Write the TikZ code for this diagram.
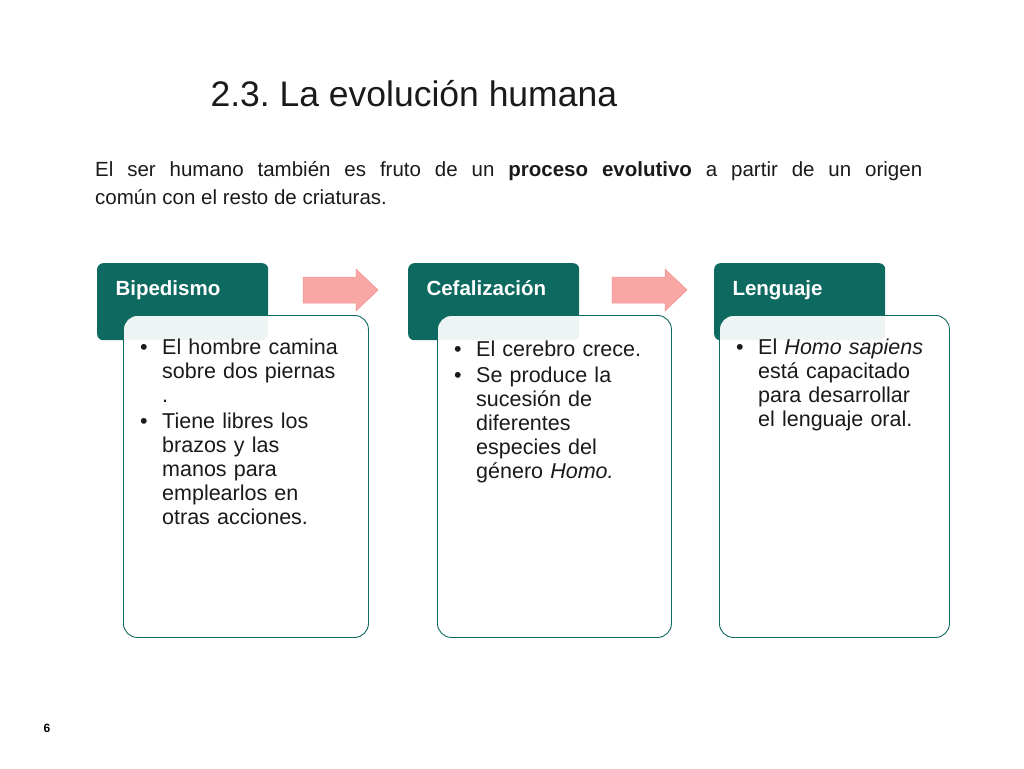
\documentclass[tikz,border=0pt]{standalone}
\usepackage{fontspec}
\setmainfont{Liberation Sans}
\definecolor{teal1}{HTML}{0E6A60}
\definecolor{pinkar}{HTML}{F9A7A5}
\definecolor{pinkbd}{HTML}{F08E8C}
\definecolor{txt}{HTML}{1A1A1A}
\newcommand{\bitem}[1]{\noindent\makebox[22pt][l]{\textbullet}\parbox[t]{200pt}{#1\strut}\par}
\frenchspacing
\begin{document}
\begin{tikzpicture}[x=1pt,y=-1pt,
  head/.style={fill=teal1,rounded corners=6pt,minimum width=171pt,minimum height=77pt,anchor=north west},
  htext/.style={anchor=base west,text=white,font=\fontsize{20.5}{22}\selectfont\bfseries},
  card/.style={draw=teal1,fill=white,fill opacity=0.93,draw opacity=1,rounded corners=14pt,anchor=north west,minimum height=322pt,line width=0.9pt},
  body/.style={anchor=north west,align=left,text width=225pt,text=txt,font=\fontsize{21.5}{24}\selectfont,inner sep=0pt},
  arr/.style={fill=pinkar,draw=pinkbd,line width=0.5pt}]
\useasboundingbox (0,0) rectangle (1024,768);
\node[anchor=base west,font=\fontsize{35.5}{40}\selectfont,text=txt] (title) at (207,106) {2.3. La evolución humana};
\node[anchor=north west,text width=827pt,align=justify,inner sep=0pt,text=txt,font=\fontsize{20.5}{28}\selectfont] (intro) at (95,161) {El ser humano también es fruto de un \textbf{proceso evolutivo} a partir de un origen\linebreak común con el resto de criaturas.};
\node[head] (h1) at (97,263) {};
\node[head] (h2) at (408,263) {};
\node[head] (h3) at (714,263) {};
\node[htext] (t1) at (112,295) {Bipedismo};
\node[htext] (t2) at (423,295) {Cefalización};
\node[htext] (t3) at (729,295) {Lenguaje};
\node[card,minimum width=245pt] (c1) at (123,315) {};
\node[card,minimum width=234pt] (c2) at (437,315) {};
\node[card,minimum width=230pt] (c3) at (719,315) {};
\draw[arr] (303,277) -- (356,277) -- (356,269) -- (378,290) -- (356,311) -- (356,303) -- (303,303) -- cycle;
\draw[arr] (612,277) -- (665,277) -- (665,269) -- (687,290) -- (665,311) -- (665,303) -- (612,303) -- cycle;
\node[body] (b1) at (140,339) {\bitem{El hombre camina\\sobre dos piernas\\.}\vspace{2pt}\bitem{Tiene libres los\\brazos y las\\manos para\\emplearlos en\\otras acciones.}};
\node[body] (b2) at (454,339) {\bitem{El cerebro crece.}\vspace{2pt}\bitem{Se produce la\\sucesión de\\diferentes\\especies del\\género \textit{Homo.}}};
\node[body] (b3) at (736,339) {\bitem{El \textit{Homo sapiens}\\está capacitado\\para desarrollar\\el lenguaje oral.}};
\node[anchor=base,font=\fontsize{12}{14}\selectfont\bfseries] (pg) at (47,732) {6};
\end{tikzpicture}
\end{document}
